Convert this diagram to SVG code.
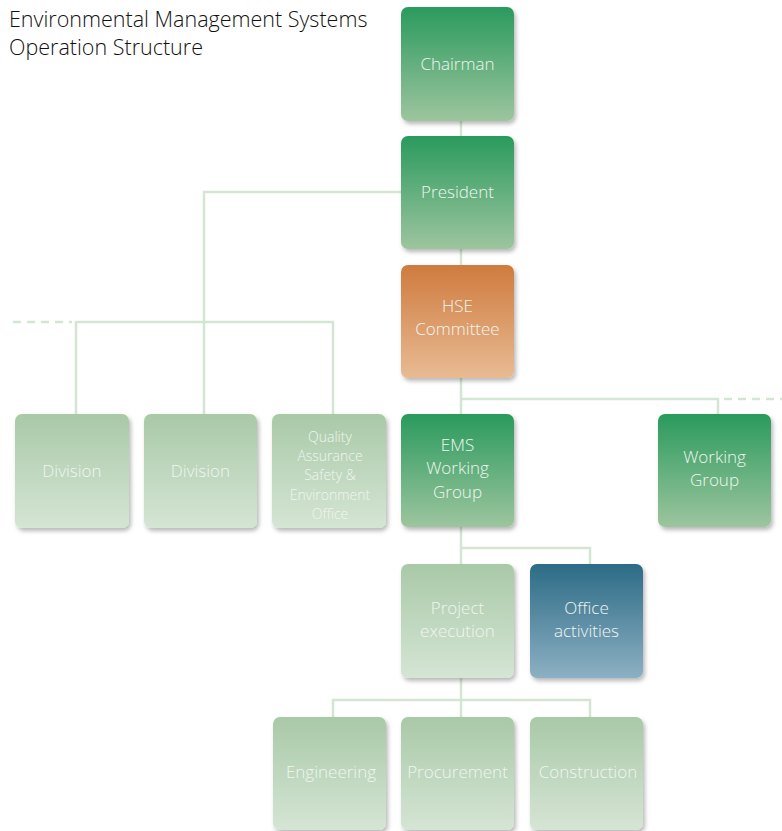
<svg xmlns="http://www.w3.org/2000/svg" width="782" height="831" viewBox="0 0 782 831">
  <defs>
    <linearGradient id="gGreen" x1="0" y1="0" x2="0" y2="1">
      <stop offset="0" stop-color="#2a9a5d"/>
      <stop offset="1" stop-color="#9dc59e"/>
    </linearGradient>
    <linearGradient id="gLight" x1="0" y1="0" x2="0" y2="1">
      <stop offset="0" stop-color="#a9c9a8"/>
      <stop offset="1" stop-color="#d5e5d4"/>
    </linearGradient>
    <linearGradient id="gOrange" x1="0" y1="0" x2="0" y2="1">
      <stop offset="0" stop-color="#cf7b3e"/>
      <stop offset="1" stop-color="#e8bb93"/>
    </linearGradient>
    <linearGradient id="gBlue" x1="0" y1="0" x2="0" y2="1">
      <stop offset="0" stop-color="#2c6b86"/>
      <stop offset="1" stop-color="#8db0c3"/>
    </linearGradient>
    <filter id="shadow" x="-10%" y="-10%" width="130%" height="130%">
      <feDropShadow dx="2" dy="3" stdDeviation="2" flood-color="#000" flood-opacity="0.28"/>
    </filter>
  </defs>
  <style>
    .box { filter: url(#shadow); }
    .green { fill: url(#gGreen); }
    .light { fill: url(#gLight); }
    .orange { fill: url(#gOrange); }
    .blue { fill: url(#gBlue); }
    .lbl { font-family: "Century Gothic", "URW Gothic", "Open Sans", "Liberation Sans", sans-serif; font-weight: 300; font-size: 17px; text-anchor: middle; fill: #f0f6f0; }
    .small { font-size: 14px; }
    .title { font-family: "Century Gothic", "URW Gothic", "Open Sans", "Liberation Sans", sans-serif; font-weight: 300; font-size: 21.5px; fill: #111; }
    .link { fill: none; stroke: #d3e5d3; stroke-width: 2.5; }
    .dash { fill: none; stroke: #d3e5d3; stroke-width: 2.5; stroke-dasharray: 8 6; }
  </style>

  <rect width="782" height="831" fill="#fff"/>

  <g id="title">
    <text class="title" x="9" y="27">Environmental Management Systems</text>
    <text class="title" x="9" y="55">Operation Structure</text>
  </g>

  <!-- connectors -->
  <g id="connectors">
    <path class="link" d="M461 121 V136"/>
    <path class="link" d="M401 192 H204 V414"/>
    <path class="link" d="M76 414 V322 H333 V414"/>
    <path class="dash" d="M13 322 H72"/>
    <path class="link" d="M461 249 V265"/>
    <path class="link" d="M461 378 V414"/>
    <path class="link" d="M461 399 H718 V414"/>
    <path class="dash" d="M724 399 H782"/>
    <path class="link" d="M461 527 V564"/>
    <path class="link" d="M461 548 H590 V564"/>
    <path class="link" d="M461 678 V717"/>
    <path class="link" d="M333 717 V700 H590 V717"/>
  </g>

  <g id="chairman">
    <rect class="box green" x="401" y="7" width="113" height="114" rx="7"/>
    <text class="lbl" x="457.5" y="70">Chairman</text>
  </g>
  <g id="president">
    <rect class="box green" x="401" y="136" width="113" height="113" rx="7"/>
    <text class="lbl" x="457.5" y="198">President</text>
  </g>
  <g id="hse-committee">
    <rect class="box orange" x="401" y="265" width="113" height="113" rx="7"/>
    <text class="lbl" x="457.5" y="311.5">HSE<tspan x="457.5" dy="23.3">Committee</tspan></text>
  </g>
  <g id="division-1">
    <rect class="box light" x="15" y="414" width="114" height="114" rx="7"/>
    <text class="lbl" x="72" y="477">Division</text>
  </g>
  <g id="division-2">
    <rect class="box light" x="144" y="414" width="113" height="114" rx="7"/>
    <text class="lbl" x="200.5" y="477">Division</text>
  </g>
  <g id="qa-office">
    <rect class="box light" x="272" y="414" width="114" height="114" rx="7"/>
    <text class="lbl small" x="330" y="442">Quality<tspan x="330" dy="19.2">Assurance</tspan><tspan x="330" dy="19.2">Safety &amp;</tspan><tspan x="330" dy="19.2">Environment</tspan><tspan x="330" dy="19.2">Office</tspan></text>
  </g>
  <g id="ems-working-group">
    <rect class="box green" x="401" y="414" width="113" height="113" rx="7"/>
    <text class="lbl" x="457.5" y="451">EMS<tspan x="457.5" dy="23.3">Working</tspan><tspan x="457.5" dy="23.3">Group</tspan></text>
  </g>
  <g id="working-group">
    <rect class="box green" x="658" y="414" width="113" height="113" rx="7"/>
    <text class="lbl" x="714.5" y="463">Working<tspan x="714.5" dy="23.3">Group</tspan></text>
  </g>
  <g id="project-execution">
    <rect class="box light" x="401" y="564" width="113" height="114" rx="7"/>
    <text class="lbl" x="457.5" y="614">Project<tspan x="457.5" dy="23.3">execution</tspan></text>
  </g>
  <g id="office-activities">
    <rect class="box blue" x="530" y="564" width="113" height="114" rx="7"/>
    <text class="lbl" x="586.5" y="614">Office<tspan x="586.5" dy="23.3">activities</tspan></text>
  </g>
  <g id="engineering">
    <rect class="box light" x="273" y="717" width="113" height="113" rx="7"/>
    <text class="lbl" x="331" y="778">Engineering</text>
  </g>
  <g id="procurement">
    <rect class="box light" x="401" y="717" width="113" height="113" rx="7"/>
    <text class="lbl" x="457.5" y="778">Procurement</text>
  </g>
  <g id="construction">
    <rect class="box light" x="530" y="717" width="113" height="113" rx="7"/>
    <text class="lbl" x="588" y="778">Construction</text>
  </g>
</svg>
